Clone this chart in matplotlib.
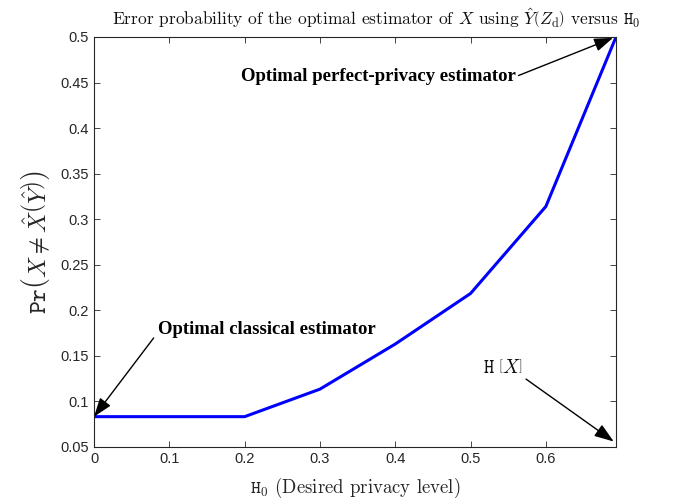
import numpy as np
import matplotlib
matplotlib.use("Agg")
import matplotlib.pyplot as plt

plt.rcParams['mathtext.fontset'] = 'cm'
plt.rcParams['font.family'] = ['Liberation Sans', 'DejaVu Sans']
plt.rcParams['axes.formatter.use_mathtext'] = False

# Data
h0 = [0.0, 0.1, 0.2, 0.3, 0.4, 0.5, 0.6, np.log(2)]
p_err = [0.0833, 0.0833, 0.0833, 0.1135, 0.1630, 0.2185, 0.3140, 0.5]
xticks = [0, 0.1, 0.2, 0.3, 0.4, 0.5, 0.6]
yticks = [0.05, 0.1, 0.15, 0.2, 0.25, 0.3, 0.35, 0.4, 0.45, 0.5]

fig = plt.figure(figsize=(6.78, 5.04), dpi=100)
ax = fig.add_axes([94/678, 1-447/504, (616-94)/678, (447-37)/504])

ax.plot(h0, p_err, color=(0, 0, 1), lw=2.2, solid_joinstyle='miter')

ax.set_xlim(0, np.log(2))
ax.set_ylim(0.05, 0.5)
ax.set_xticks(xticks)
ax.set_xticklabels([f"{t:g}" for t in xticks])
ax.set_yticks(yticks)
ax.set_yticklabels([f"{t:g}" for t in yticks])
ax.tick_params(direction='in', top=True, right=True, labelsize=10.5,
               length=4, width=0.6, colors='#262626', labelcolor='#262626')
for s in ax.spines.values():
    s.set_linewidth(0.8)
    s.set_color('#262626')

fig.text(376/678, 1-18/504,
         r"Error probability of the optimal estimator of $X$ using $\hat{Y}\left(Z_{\rm d}\right)$ versus $\mathtt{H}_0$",
         family=['cmr10'], fontsize=12.5, color='#111111', ha='center', va='center')
ax.set_xlabel(r"$\mathtt{H}_0$ (Desired privacy level)", family=['cmr10'],
              fontsize=13.5, labelpad=7, color='#262626')
ax.set_ylabel(r"$\mathtt{Pr}\left(X \neq \hat{X}\left(\hat{Y}\right)\right)$",
              fontsize=17.5, labelpad=6, color='#262626')

bold = dict(family=['Liberation Serif'], fontweight='bold', fontsize=13.5)
arrow = dict(arrowstyle='-|>,head_length=0.85,head_width=0.3', color='black',
             lw=1.0, shrinkA=0, shrinkB=0)

ax.annotate("Optimal classical estimator", xy=(0.0, p_err[0]),
            xytext=(0.085, 0.179), textcoords='data', ha='left', va='center',
            arrowprops=dict(arrow, relpos=(-0.02, 0)), **bold)
ax.annotate("Optimal perfect-privacy estimator", xy=(np.log(2) - 0.004, 0.499),
            xytext=(0.56, 0.4565), ha='right', va='center',
            arrowprops=dict(arrow, relpos=(1, 0.5)), **bold)
ax.annotate(r"$\mathtt{H}\ \left[X\right]$", xy=(np.log(2) - 0.003, 0.056),
            xytext=(0.57, 0.137), ha='right', va='center', fontsize=14,
            color='#111111',
            arrowprops=dict(arrow, relpos=(1.05, -0.1)))

fig.savefig("out.png", dpi=100)
